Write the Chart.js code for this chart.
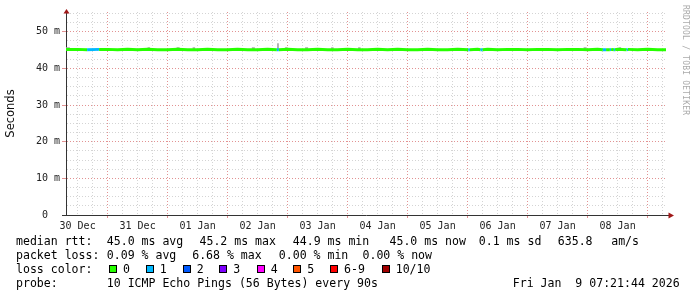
<!DOCTYPE html>
<html>
<head>
<meta charset="utf-8">
<script src="https://cdn.jsdelivr.net/npm/chart.js@4.4.1/dist/chart.umd.min.js"></script>
<style>
  html, body { margin: 0; padding: 0; background: #fff; }
  #wrap { position: relative; width: 697px; height: 297px; overflow: hidden; background: #fff; }
  #graph { position: absolute; left: 0; top: 0; }
  .lg { position: absolute; font-family: "DejaVu Sans Mono", monospace; font-size: 11.55px; line-height: 14px; height: 14px; white-space: pre; color: #000; }
  .box { position: absolute; top: 265px; width: 6px; height: 6px; border: 1px solid #000; }
  #stamp { position: absolute; left: 681px; top: 5px; writing-mode: vertical-rl; font-family: "DejaVu Sans Mono", monospace; font-size: 8px; color: #aaa; letter-spacing: 0.2px; }
</style>
</head>
<body>
<div id="wrap">
  <canvas id="graph" width="697" height="297"></canvas>
  <div id="stamp">RRDTOOL / TOBI OETIKER</div>

  <div class="lg" style="left:16px;top:234px">median rtt:</div>
  <div class="lg" style="left:106.8px;top:234px">45.0 ms avg</div>
  <div class="lg" style="left:199.5px;top:234px">45.2 ms max</div>
  <div class="lg" style="left:292.8px;top:234px">44.9 ms min</div>
  <div class="lg" style="left:389.5px;top:234px">45.0 ms now</div>
  <div class="lg" style="left:478.8px;top:234px">0.1 ms sd</div>
  <div class="lg" style="left:557.8px;top:234px">635.8</div>
  <div class="lg" style="left:611.2px;top:234px">am/s</div>

  <div class="lg" style="left:16px;top:248px">packet loss:</div>
  <div class="lg" style="left:106.8px;top:248px">0.09 % avg</div>
  <div class="lg" style="left:192.2px;top:248px">6.68 % max</div>
  <div class="lg" style="left:278.8px;top:248px">0.00 % min</div>
  <div class="lg" style="left:362.5px;top:248px">0.00 % now</div>

  <div class="lg" style="left:16px;top:262px">loss color:</div>
  <div id="lossKey"></div>

  <div class="lg" style="left:16px;top:276px">probe:</div>
  <div class="lg" style="left:106.8px;top:276px">10 ICMP Echo Pings (56 Bytes) every 90s</div>
  <div class="lg" style="left:512.8px;top:276px">Fri Jan  9 07:21:44 2026</div>
</div>

<script>
// x runs in hours since 30 Dec 00:00; window is 30 Dec 07:21:44 -> 09 Jan 07:21:44
const startHour = 7.36;
const endHour = 247.36;
const dayLabels = ['30 Dec', '31 Dec', '01 Jan', '02 Jan', '03 Jan', '04 Jan', '05 Jan', '06 Jan', '07 Jan', '08 Jan'];

const lossLabels = ['0', '1', '2', '3', '4', '5', '6-9', '10/10'];
const lossColors = ['#26ff00', '#00b8ff', '#0059ff', '#7e00ff', '#ff00ff', '#ff5500', '#ff0000', '#a10000'];

// median rtt in ms, with the loss bucket of the sample starting at that hour
const medianHours = [7.36, 12, 15.8, 20.6, 24, 28, 32, 36, 40, 44, 48, 52, 56, 60, 64, 68, 72, 76, 80, 84,
  88, 91.7, 92.5, 96, 100, 104, 108, 112, 116, 120, 124, 128, 132, 136, 140, 144, 148, 152, 156, 160,
  164, 168.3, 168.9, 172, 173.2, 174, 176, 180, 184, 188, 192, 196, 200, 204, 208, 212, 216, 220,
  222.1, 223.4, 224.9, 225.4, 226.5, 227.0, 228, 231.6, 232.1, 236, 240, 244, 247.36];
const medianMs = [45.2, 45.2, 45.1, 45.2, 45.2, 45.1, 45.2, 45.1, 45.2, 45.1, 45.1, 45.2, 45.1, 45.1, 45.2, 45.1, 45.1, 45.2, 45.1, 45.1,
  45.2, 45.1, 45.1, 45.2, 45.1, 45.1, 45.2, 45.1, 45.1, 45.2, 45.1, 45.1, 45.2, 45.1, 45.2, 45.1, 45.1, 45.2, 45.1, 45.1,
  45.2, 45.1, 45.1, 45.2, 45.1, 45.1, 45.2, 45.1, 45.2, 45.2, 45.1, 45.2, 45.2, 45.1, 45.2, 45.2, 45.1, 45.2,
  45.1, 45.1, 45.1, 45.2, 45.1, 45.1, 45.2, 45.1, 45.2, 45.1, 45.2, 45.1, 45.1];
const medianLoss = [0, 0, 1, 0, 0, 0, 0, 0, 0, 0, 0, 0, 0, 0, 0, 0, 0, 0, 0, 0,
  0, 1, 0, 0, 0, 0, 0, 0, 0, 0, 0, 0, 0, 0, 0, 0, 0, 0, 0, 0,
  0, 1, 0, 0, 1, 0, 0, 0, 0, 0, 0, 0, 0, 0, 0, 0, 0, 0,
  1, 0, 1, 0, 1, 0, 0, 1, 0, 0, 0, 0, 0];

// upper edge of the ping spread ("smoke"), held until the next hour
const smokeHours = [7.36, 8.9, 40.0, 41.0, 51.6, 52.8, 58.0, 59.0, 81.7, 82.9, 91.8, 92.5, 95.0, 96.0,
  103.0, 104.2, 113.4, 114.4, 124.2, 125.2, 214.4, 215.6, 228.4, 229.4, 247.36];
const smokeMs = [45.8, 45.3, 45.8, 45.3, 45.8, 45.3, 45.8, 45.3, 45.8, 45.3, 46.9, 45.3, 45.8, 45.3,
  45.8, 45.3, 45.8, 45.3, 45.8, 45.3, 45.8, 45.3, 45.8, 45.3, 45.3];

const MGRID = 'rgb(226, 146, 146)';
const GRID = 'rgb(212, 212, 212)';
const AXIS = '#333';

// loss colour key in the legend
(function () {
  const boxLeft = [109, 145.7, 182.7, 219.3, 256.7, 293.3, 330, 381.7];
  const key = document.getElementById('lossKey');
  lossLabels.forEach(function (lbl, i) {
    const b = document.createElement('div');
    b.className = 'box';
    b.style.left = boxLeft[i] + 'px';
    b.style.background = lossColors[i];
    key.appendChild(b);
    const t = document.createElement('div');
    t.className = 'lg';
    t.style.left = (boxLeft[i] + 14) + 'px';
    t.style.top = '262px';
    t.textContent = lbl;
    key.appendChild(t);
  });
})();

const medianPoints = medianHours.map((h, i) => ({x: h, y: medianMs[i]}));
const smokePoints = smokeHours.map((h, i) => ({x: h, y: smokeMs[i]}));

// axis arrows like rrdtool draws them
const axisArrows = {
  id: 'axisArrows',
  afterDraw(chart) {
    const {ctx, chartArea: a} = chart;
    const x0 = Math.round(a.left) + 0.5;
    const y0 = Math.round(a.bottom) + 0.5;
    ctx.save();
    ctx.strokeStyle = AXIS;
    ctx.lineWidth = 1;
    ctx.beginPath();
    ctx.moveTo(x0, a.top);
    ctx.lineTo(x0, a.top - 2);
    ctx.moveTo(a.right, y0);
    ctx.lineTo(a.right + 3, y0);
    ctx.stroke();
    ctx.fillStyle = '#a01818';
    ctx.beginPath();
    ctx.moveTo(x0, a.top - 3);
    ctx.lineTo(x0 - 3, a.top + 1.5);
    ctx.lineTo(x0 + 3, a.top + 1.5);
    ctx.closePath();
    ctx.fill();
    ctx.beginPath();
    ctx.moveTo(a.right + 8, y0);
    ctx.lineTo(a.right + 2.5, y0 - 3);
    ctx.lineTo(a.right + 2.5, y0 + 3);
    ctx.closePath();
    ctx.fill();
    ctx.restore();
  }
};

new Chart(document.getElementById('graph'), {
  type: 'line',
  data: {
    datasets: [{
      data: medianPoints,
      order: 0,
      borderWidth: 3,
      borderCapStyle: 'butt',
      borderColor: lossColors[0],
      pointRadius: 0,
      tension: 0,
      segment: {
        borderColor: (ctx) => lossColors[medianLoss[ctx.p0DataIndex]]
      }
    }, {
      data: smokePoints,
      order: 1,
      stepped: true,
      borderWidth: 0,
      pointRadius: 0,
      backgroundColor: '#aaaaaa',
      fill: {value: 45.0}
    }]
  },
  options: {
    responsive: false,
    animation: false,
    devicePixelRatio: 1,
    layout: {padding: {left: 0, right: 31, top: 12, bottom: 62}},
    plugins: {legend: {display: false}, tooltip: {enabled: false}},
    scales: {
      x: {
        type: 'linear',
        min: startHour,
        max: endHour,
        afterBuildTicks: (axis) => {
          const t = [];
          for (let h = 12; h <= 246; h += 6) t.push({value: h});
          axis.ticks = t;
        },
        afterFit: (scale) => { scale.height = 20; },
        ticks: {
          autoSkip: false,
          maxRotation: 0,
          padding: 2,
          color: '#222',
          font: {family: 'DejaVu Sans Mono', size: 10},
          callback: (v) => (v % 24 === 12 ? dayLabels[(v - 12) / 24] : '')
        },
        grid: {
          color: (ctx) => (ctx.tick && ctx.tick.value % 24 === 0 ? MGRID : GRID),
          tickColor: (ctx) => (ctx.tick && ctx.tick.value % 24 === 0 ? MGRID : 'rgba(0,0,0,0)'),
          tickLength: 3,
          tickBorderDash: []
        },
        border: {color: AXIS, width: 1, dash: [1, 2]}
      },
      y: {
        min: 0,
        max: 55.4,
        afterBuildTicks: (axis) => {
          const t = [];
          for (let v = 0; v <= 55; v += 2.5) t.push({value: v});
          axis.ticks = t;
        },
        afterFit: (scale) => { scale.width = 66; },
        ticks: {
          autoSkip: false,
          padding: 2,
          color: '#222',
          font: {family: 'DejaVu Sans Mono', size: 10},
          callback: (v) => (v === 0 ? '0  ' : (v % 10 === 0 ? v + ' m' : ''))
        },
        grid: {
          color: (ctx) => (!ctx.tick || ctx.tick.value === 0 ? 'rgba(0,0,0,0)' : (ctx.tick.value % 10 === 0 ? MGRID : GRID)),
          tickColor: (ctx) => (ctx.tick && ctx.tick.value === 0 ? AXIS : (ctx.tick && ctx.tick.value % 10 === 0 ? MGRID : 'rgba(0,0,0,0)')),
          tickLength: 4,
          tickBorderDash: []
        },
        border: {color: AXIS, width: 1, dash: [1, 2]},
        title: {
          display: true,
          text: 'Seconds',
          color: '#111',
          font: {family: 'DejaVu Sans', size: 11.5},
          padding: {top: 4, bottom: 0}
        }
      }
    }
  },
  plugins: [axisArrows]
});
</script>
</body>
</html>
